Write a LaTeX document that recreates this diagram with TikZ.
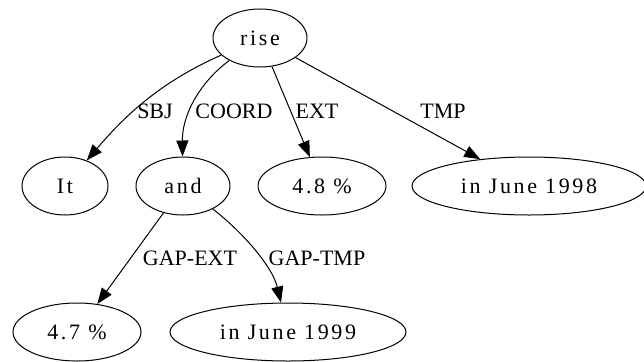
\documentclass[tikz,border=0pt]{standalone}
\usepackage{fontspec}
\setmainfont{Liberation Serif}
\newfontfamily\wordfont{Liberation Serif}[LetterSpace=12]
\usetikzlibrary{shapes.geometric,arrows.meta,positioning}

\begin{document}
\begin{tikzpicture}[
    x=1pt, y=-1pt,
    word/.style={draw, ellipse, line width=1pt, inner sep=0pt, minimum height=58pt, font=\wordfont\fontsize{22}{26}\selectfont},
    lab/.style={inner sep=1pt, font=\fontsize{22}{26}\selectfont},
    edge/.style={-{Triangle[length=16pt,width=12pt]}, line width=1pt}
]
\useasboundingbox (0,0) rectangle (644,361);
\node[word, minimum width=94pt] (rise) at (260,38) {rise};
\node[word, minimum width=86pt] (it) at (65,186) {It};
\node[word, minimum width=94pt] (and) at (183,186) {and};
\node[word, minimum width=128pt] (p48) at (322,186) {4.8 \%};
\node[word, minimum width=234pt] (j98) at (529,186) {in June 1998};
\node[word, minimum width=128pt] (p47) at (77,332) {4.7 \%};
\node[word, minimum width=236pt] (j99) at (288,332) {in June 1999};

% edge labels
\node[lab] (sbj) at (155,111) {SBJ};
\node[lab] (coord) at (234,111) {COORD};
\node[lab] (ext) at (317,111) {EXT};
\node[lab] (tmp) at (443,111) {TMP};
\node[lab] (gapext) at (190,258) {GAP-EXT};
\node[lab] (gaptmp) at (317,258) {GAP-TMP};

\draw[edge] (rise) .. controls (158,83) and (123,118) .. (it);
\draw[edge] (rise) .. controls (200,82) and (182,115) .. (and);
\draw[edge] (rise) -- (p48);
\draw[edge] (rise) -- (j98);
\draw[edge] (and) -- (p47);
\draw[edge] (and) .. controls (240,230) and (272,265) .. (j99);
\end{tikzpicture}
\end{document}
